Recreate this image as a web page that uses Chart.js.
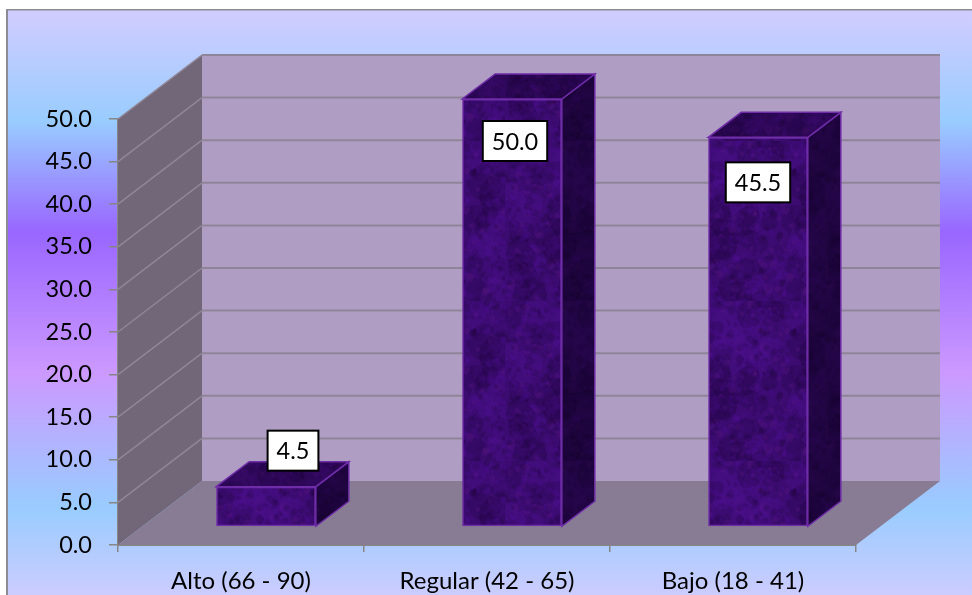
<!DOCTYPE html>
<html>
<head>
<meta charset="utf-8">
<title>Niveles</title>
<script src="https://cdn.jsdelivr.net/npm/chart.js@4"></script>
<style>
    html, body { margin: 0; padding: 0; background: #fff; overflow: hidden; }
    canvas { display: block; }
</style>
</head>
<body>
<canvas id="grafico" width="972" height="595"></canvas>
<script>
const categorias = ['Alto (66 - 90)', 'Regular (42 - 65)', 'Bajo (18 - 41)'];
const porcentajes = [4.5, 50.0, 45.5];
const etiquetasY = ['0.0', '5.0', '10.0', '15.0', '20.0', '25.0', '30.0', '35.0', '40.0', '45.0', '50.0'];

// fondo del marco
const fondoParadas = [
    [0, '#d2ccff'],
    [0.19, '#99ccff'],
    [0.38, '#9966ff'],
    [0.62, '#cc99ff'],
    [0.85, '#99ccff'],
    [1, '#ccccff']
];

// profundidad de la caja 3D y de las barras
const caja = { dx: 84, dy: -64 };
const barraPos = { dx: 25, dy: -19 };
const barraProf = { dx: 33, dy: -25 };
const inflado = 1;
const posEtiquetas = [[27, -37], [3, 41], [0, 44]];
const fuente = 'Lato, "Open Sans", sans-serif';

// textura moteada de las barras
function textura() {
    const c = document.createElement('canvas');
    c.width = 160;
    c.height = 160;
    const g = c.getContext('2d');
    g.fillStyle = '#3c0c72';
    g.fillRect(0, 0, 160, 160);
    let s = 11;
    const sig = function () {
        s = (s * 16807) % 2147483647;
        return s / 2147483647;
    };
    for (let i = 0; i < 60; i++) {
        const x = sig() * 160, y = sig() * 160, r = 8 + sig() * 14;
        g.fillStyle = sig() < 0.5 ? 'rgba(34,6,66,0.22)' : 'rgba(84,18,150,0.22)';
        g.beginPath();
        g.ellipse(x, y, r, r * (0.5 + sig() * 0.5), sig() * 3, 0, Math.PI * 2);
        g.fill();
    }
    for (let i = 0; i < 1100; i++) {
        const x = sig() * 160, y = sig() * 160, r = 1 + sig() * 3;
        const tono = sig();
        g.fillStyle = tono < 0.5 ? 'rgba(28,4,56,0.16)' : (tono < 0.88 ? 'rgba(80,16,150,0.2)' : 'rgba(105,28,140,0.18)');
        g.beginPath();
        g.ellipse(x, y, r, r * (0.4 + sig()), sig() * 3, 0, Math.PI * 2);
        g.fill();
    }
    return g.createPattern(c, 'repeat');
}

function poligono(ctx, pts, relleno, borde, ancho) {
    ctx.beginPath();
    pts.forEach(function (p, i) {
        if (i === 0) ctx.moveTo(p[0], p[1]);
        else ctx.lineTo(p[0], p[1]);
    });
    ctx.closePath();
    if (relleno) {
        ctx.fillStyle = relleno;
        ctx.fill();
    }
    if (borde) {
        ctx.strokeStyle = borde;
        ctx.lineWidth = ancho || 1;
        ctx.stroke();
    }
}

function linea(ctx, pts, color, ancho) {
    ctx.beginPath();
    pts.forEach(function (p, i) {
        if (i === 0) ctx.moveTo(p[0], p[1]);
        else ctx.lineTo(p[0], p[1]);
    });
    ctx.strokeStyle = color;
    ctx.lineWidth = ancho;
    ctx.stroke();
}

const marco = {
    id: 'marco',
    beforeDraw(chart) {
        const ctx = chart.ctx;
        const grad = ctx.createLinearGradient(0, 10, 0, 595);
        fondoParadas.forEach(function (p) { grad.addColorStop(p[0], p[1]); });
        ctx.save();
        ctx.fillStyle = '#ffffff';
        ctx.fillRect(0, 0, chart.width, chart.height);
        ctx.fillStyle = grad;
        ctx.fillRect(7, 10, chart.width - 7, chart.height - 10);
        ctx.fillStyle = '#8c8c94';
        ctx.fillRect(6, 9, chart.width - 6, 1.5);
        ctx.fillRect(6, 9, 2, chart.height - 9);
        ctx.restore();
    }
};

const paredes = {
    id: 'paredes',
    beforeDatasetsDraw(chart) {
        const ctx = chart.ctx, a = chart.chartArea, y = chart.scales.y;
        const l = a.left, r = a.right, t = a.top, b = a.bottom;
        const dx = caja.dx, dy = caja.dy;
        ctx.save();
        poligono(ctx, [[l + dx, t + dy], [r + dx, t + dy], [r + dx, b + dy], [l + dx, b + dy]], '#b09dc3');
        poligono(ctx, [[l, b], [l, t], [l + dx, t + dy], [l + dx, b + dy]], '#716779');
        poligono(ctx, [[l, b], [l + dx, b + dy], [r + dx, b + dy], [r, b]], '#887c94');
        y.ticks.forEach(function (tk) {
            const py = y.getPixelForValue(tk.value);
            if (tk.value > 0) {
                linea(ctx, [[l, py], [l + dx, py + dy]], '#8f8696', 1.5);
                linea(ctx, [[l + dx, py + dy], [r + dx, py + dy]], '#8f8599', 2);
            }
        });
        ctx.restore();
        // las barras se apoyan en el piso, un poco hacia atras
        ctx.save();
        ctx.translate(barraPos.dx, barraPos.dy);
    },
    afterDatasetsDraw(chart) {
        const ctx = chart.ctx;
        const barras = chart.getDatasetMeta(0).data;
        const tex = chart.data.datasets[0].backgroundColor;
        barras.forEach(function (b) {
            const iz = b.x - b.width / 2 - inflado, de = b.x + b.width / 2 + inflado;
            const arriba = b.y - inflado, abajo = b.base + inflado;
            const dx = barraProf.dx, dy = barraProf.dy;
            const lado = [[de, arriba], [de + dx, arriba + dy], [de + dx, abajo + dy], [de, abajo]];
            const tapa = [[iz, arriba], [iz + dx, arriba + dy], [de + dx, arriba + dy], [de, arriba]];
            poligono(ctx, lado, tex);
            poligono(ctx, lado, 'rgba(10,0,25,0.55)', '#6f2da8', 1.5);
            poligono(ctx, tapa, tex);
            poligono(ctx, tapa, 'rgba(15,0,35,0.32)', '#6f2da8', 1.5);
        });
        ctx.restore();

        // cajas de datos
        ctx.save();
        ctx.font = '23.5px ' + fuente;
        ctx.textAlign = 'center';
        ctx.textBaseline = 'middle';
        barras.forEach(function (b, i) {
            const cx = b.x + barraPos.dx + posEtiquetas[i][0];
            const cy = b.y + barraPos.dy + posEtiquetas[i][1];
            const texto = porcentajes[i].toFixed(1);
            const w = ctx.measureText(texto).width + 18;
            const h = 40;
            ctx.fillStyle = '#ffffff';
            ctx.fillRect(cx - w / 2, cy - h / 2, w, h);
            ctx.strokeStyle = '#000000';
            ctx.lineWidth = 2;
            ctx.strokeRect(cx - w / 2, cy - h / 2, w, h);
            ctx.fillStyle = '#000000';
            ctx.fillText(texto, cx, cy + 1);
        });
        ctx.restore();
    }
};

new Chart(document.getElementById('grafico'), {
    type: 'bar',
    data: {
        labels: categorias,
        datasets: [{
            data: porcentajes,
            backgroundColor: textura(),
            borderColor: '#6f2da8',
            borderWidth: 1.5,
            borderSkipped: false,
            inflateAmount: inflado,
            barPercentage: 0.397,
            categoryPercentage: 1,
            clip: false
        }]
    },
    options: {
        responsive: false,
        animation: false,
        events: [],
        layout: { padding: { top: 119, right: 116, left: 0, bottom: 0 } },
        plugins: { legend: { display: false }, title: { display: false }, tooltip: { enabled: false } },
        scales: {
            x: {
                afterFit(s) { s.height = 50; },
                grid: { drawOnChartArea: false, color: '#868686', tickLength: 7, lineWidth: 1.5 },
                border: { color: '#868686', width: 2 },
                ticks: { color: '#000', padding: 15, maxRotation: 0, font: { family: fuente, size: 24 } }
            },
            y: {
                min: 0,
                max: 50,
                afterFit(s) { s.width = 118; },
                grid: { drawOnChartArea: false, color: '#868686', tickLength: 9, lineWidth: 1.5 },
                border: { color: '#868686', width: 2 },
                ticks: {
                    stepSize: 5,
                    color: '#000',
                    padding: 17,
                    font: { family: fuente, size: 23.5 },
                    callback: function (v) { return etiquetasY[Math.round(v / 5)]; }
                }
            }
        }
    },
    plugins: [marco, paredes]
});
</script>
</body>
</html>
